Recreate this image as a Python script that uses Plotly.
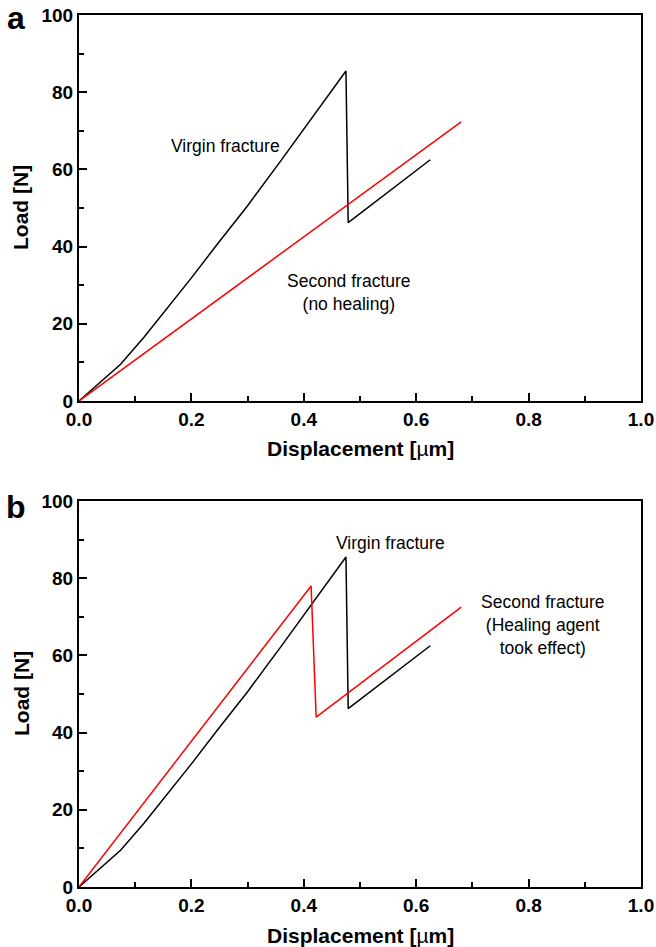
import plotly.graph_objects as go

# Load-displacement data (displacement in µm, load in N)
virgin_x = [0.0, 0.074, 0.116, 0.169, 0.2, 0.246, 0.3, 0.359, 0.475, 0.479, 0.625]
virgin_y = [0.0, 9.5, 16.6, 26.2, 31.9, 40.6, 50.6, 62.2, 85.5, 46.2, 62.5]

second_nohealing_x = [0.0, 0.68]
second_nohealing_y = [0.0, 72.3]

second_healed_x = [0.0, 0.413, 0.422, 0.68]
second_healed_y = [0.0, 78.0, 44.0, 72.5]

x_ticks = [0.0, 0.2, 0.4, 0.6, 0.8, 1.0]
y_ticks = [0, 20, 40, 60, 80, 100]

W, H = 656, 947
ML, MR, MT, MB = 79, 15, 15, 60
plot_w = W - ML - MR
plot_h = H - MT - MB
panel_h = 386
dom_a = [(plot_h - panel_h) / plot_h, 1.0]
dom_b = [0.0, panel_h / plot_h]

FONT = "Liberation Sans, Arial, sans-serif"

fig = go.Figure()
fig.add_trace(go.Scatter(x=virgin_x, y=virgin_y, mode="lines",
                         line=dict(color="black", width=1.5), xaxis="x", yaxis="y"))
fig.add_trace(go.Scatter(x=second_nohealing_x, y=second_nohealing_y, mode="lines",
                         line=dict(color="red", width=1.5), xaxis="x", yaxis="y"))
fig.add_trace(go.Scatter(x=virgin_x, y=virgin_y, mode="lines",
                         line=dict(color="black", width=1.5), xaxis="x2", yaxis="y2"))
fig.add_trace(go.Scatter(x=second_healed_x, y=second_healed_y, mode="lines",
                         line=dict(color="red", width=1.5), xaxis="x2", yaxis="y2"))

def xaxis(anchor):
    return dict(
        domain=[0, 1], anchor=anchor, range=[0, 1.0], automargin=False,
        tickvals=x_ticks, ticktext=[f"{v:.1f}" for v in x_ticks],
        ticks="inside", ticklen=8, tickwidth=1.5, tickcolor="black",
        minor=dict(tickvals=[0.1, 0.3, 0.5, 0.7, 0.9], ticks="inside",
                   ticklen=5, tickwidth=1.5, tickcolor="black"),
        showline=True, linecolor="black", linewidth=2, mirror=True,
        showgrid=False, zeroline=False,
        tickfont=dict(family=FONT, size=19, color="black", weight="bold"),
    )

def yaxis(anchor, dom):
    return dict(
        domain=dom, anchor=anchor, range=[0, 100], automargin=False,
        tickvals=y_ticks,
        ticks="inside", ticklen=8, tickwidth=1.5, tickcolor="black",
        minor=dict(tickvals=[10, 30, 50, 70, 90], ticks="inside",
                   ticklen=5, tickwidth=1.5, tickcolor="black"),
        showline=True, linecolor="black", linewidth=2, mirror=True,
        showgrid=False, zeroline=False,
        tickfont=dict(family=FONT, size=19, color="black", weight="bold"),
    )

fig.update_layout(
    width=W, height=H,
    margin=dict(l=ML, r=MR, t=MT, b=MB),
    paper_bgcolor="white", plot_bgcolor="white",
    showlegend=False,
    xaxis=xaxis("y"), yaxis=yaxis("x", dom_a),
    xaxis2=xaxis("y2"), yaxis2=yaxis("x2", dom_b),
)

def px_x(px):
    return (px - ML) / plot_w

def px_y(py):
    return (H - MB - py) / plot_h

ann_font = dict(family=FONT, size=17.5, color="black")
notes = [
    dict(text="Virgin fracture", x=0.26, y=66, xref="x", yref="y"),
    dict(text="Second fracture<br>(no healing)", x=0.48, y=28, xref="x", yref="y"),
    dict(text="Virgin fracture", x=0.555, y=89, xref="x2", yref="y2"),
    dict(text="Second fracture<br>(Healing agent<br>took effect)", x=0.825, y=68, xref="x2", yref="y2"),
]
for a in notes:
    fig.add_annotation(showarrow=False, font=ann_font, align="center", **a)

title_font = dict(family=FONT, size=21, color="black", weight="bold")
# axis titles and panel letters, placed in paper coordinates
for top in (15, 501):
    bottom = top + panel_h
    fig.add_annotation(text="Load [N]", textangle=-90, x=px_x(21), y=px_y((top + bottom) / 2),
                       xref="paper", yref="paper", showarrow=False, font=title_font,
                       xanchor="center", yanchor="middle")
    fig.add_annotation(text="Displacement [<span style='font-weight:normal'>µ</span>m]",
                       x=px_x(360), y=px_y(bottom + 48),
                       xref="paper", yref="paper", showarrow=False, font=title_font,
                       xanchor="center", yanchor="middle")
for letter, xpx, ypx in (("a", 16, 18), ("b", 16, 507)):
    fig.add_annotation(text=f"<b>{letter}</b>", x=px_x(xpx), y=px_y(ypx),
                       xref="paper", yref="paper", showarrow=False,
                       font=dict(family=FONT, size=32, color="black"),
                       xanchor="center", yanchor="middle")

fig.write_html("out.html")
